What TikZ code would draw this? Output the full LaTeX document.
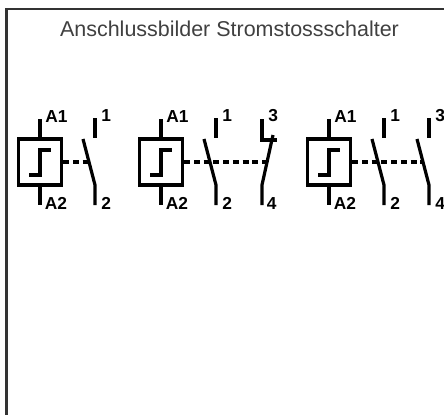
\documentclass[tikz,border=0pt]{standalone}
\usepackage{fontspec}
\setmainfont{Liberation Sans}
\usetikzlibrary{calc}
\tikzset{
  x=0.75pt,y=-0.75pt,
  frameline/.style={line width=1.9pt,draw=black!80},
  wire/.style={line width=2.4pt,black},
  stub/.style={line width=2.6pt,black},
  link/.style={line width=2.4pt,black,dash pattern=on 4.5pt off 2.8pt},
  term/.style={font=\bfseries\fontsize{13}{13}\selectfont,inner sep=0pt,anchor=west},
  relbox/.style={draw,line width=2.4pt,minimum width=32.5pt,minimum height=34.5pt,inner sep=0pt},
  titletext/.style={font=\fontsize{16.1}{18}\selectfont,text=black!75,inner sep=0pt},
}
\newcommand{\relay}[2]{%
  \node[relbox] (#2box) at (#1,162) {};
  \coordinate (#2t) at (#1,119);
  \coordinate (#2b) at (#1,205);
  \draw[wire] (#2t) -- (#2box.north);
  \draw[wire] (#2box.south) -- (#2b);
  \draw[wire] ($(#2box.center)+(-11,13)$) -- ++(11,0) -- ++(0,-25) -- ++(11,0);
  \node[term] (#2l1) at ($(#2t)+(5,-2.5)$) {A1};
  \node[term] (#2l2) at ($(#2b)+(4.5,-1.5)$) {A2};
}
\newcommand{\contact}[4]{%
  \coordinate (#4a) at (#1,118);
  \coordinate (#4b) at (#1,138);
  \coordinate (#4c) at (#1-12,139);
  \coordinate (#4d) at (#1,185);
  \coordinate (#4e) at (#1,205);
  \coordinate (#4m) at (#1-6,162);
  \draw[stub] (#4a) -- (#4b);
  \draw[wire] (#4c) -- (#4d) -- (#4e);
  \node[term] (#4l1) at ($(#4a)+(6,-2)$) {#2};
  \node[term] (#4l2) at ($(#4e)+(6,-1.5)$) {#3};
}
\begin{document}
\begin{tikzpicture}
\useasboundingbox (0,0) rectangle (444,415);
\draw[frameline] (6.5,415) -- (6.5,9) -- (444,9);
\node[titletext] (title) at (229.5,29) {Anschlussbilder Stromstossschalter};
% first group
\relay{40}{ra}
\contact{95}{1}{2}{sa}
\draw[link] (rabox.east) -- (sam);
% second group
\relay{161}{rb}
\contact{216}{1}{2}{sb}
\coordinate (nca) at (262,119);
\coordinate (ncb) at (262,140);
\coordinate (ncc) at (277,140);
\coordinate (ncd) at (273,135);
\coordinate (nce) at (262,185);
\coordinate (ncf) at (262,205);
\coordinate (ncm) at (268,162);
\draw[wire] (nca) -- (ncb) -- (ncc);
\draw[wire] (ncd) -- (nce) -- (ncf);
\node[term] (ncl1) at ($(nca)+(6,-3)$) {3};
\node[term] (ncl2) at ($(ncf)+(4.5,-1.5)$) {4};
\draw[link] (rbbox.east) -- (ncm);
% third group
\relay{329}{rc}
\contact{384}{1}{2}{sc}
\contact{429}{3}{4}{sd}
\draw[link] (rcbox.east) -- (sdm);
\end{tikzpicture}
\end{document}
